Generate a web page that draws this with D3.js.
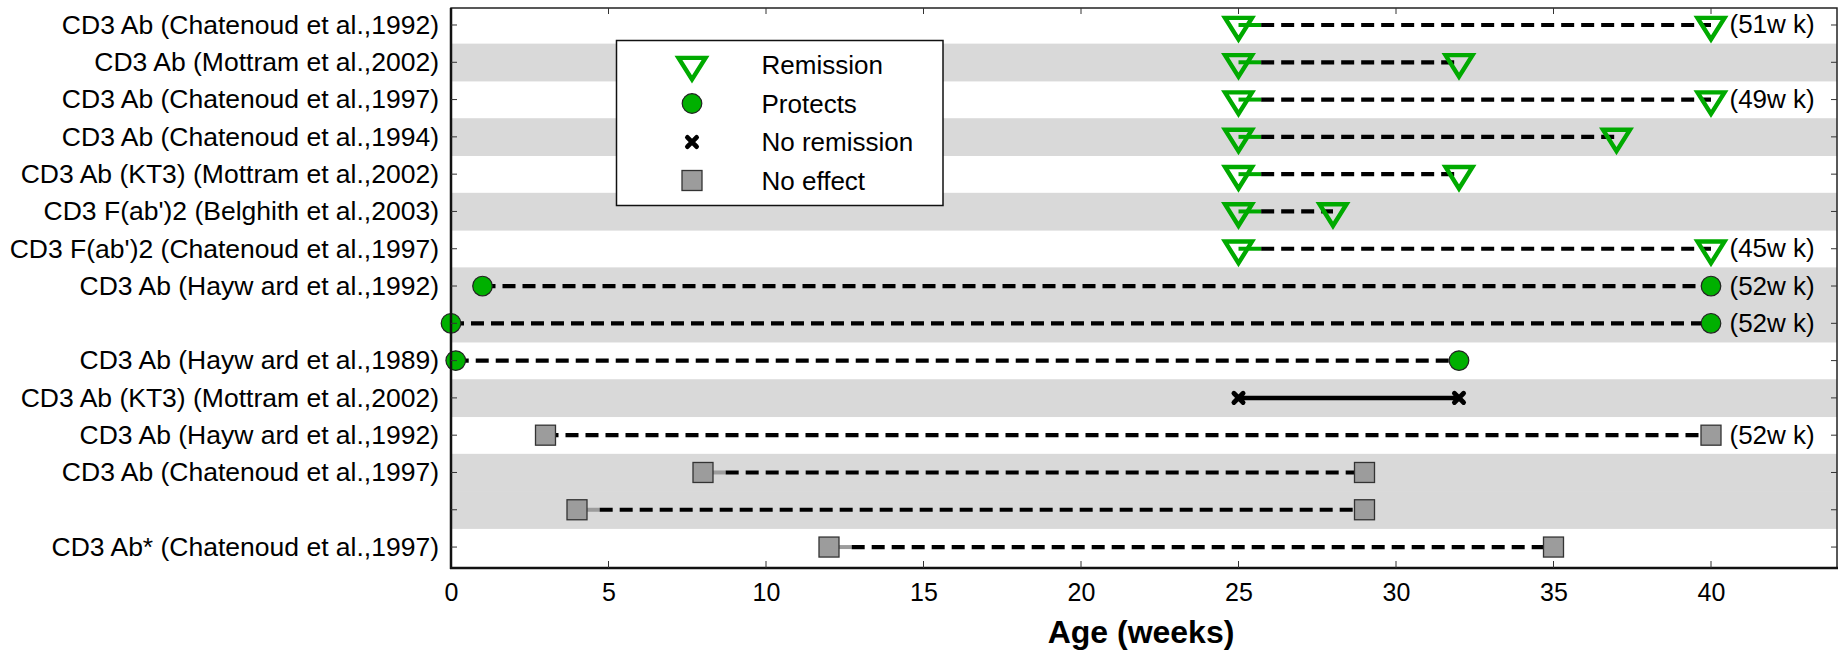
<!DOCTYPE html>
<html>
<head>
<meta charset="utf-8">
<script src="https://cdn.jsdelivr.net/npm/d3@7"></script>
<style>
  html, body { margin: 0; padding: 0; background: #fff; }
  svg { display: block; font-family: "Liberation Sans", Arial, sans-serif; }
</style>
</head>
<body>
<svg id="chart" width="1840" height="650"></svg>
<script>
// ---------------- data ----------------
const rowLabels = [
  "CD3 Ab (Chatenoud et al.,1992)",
  "CD3 Ab (Mottram et al.,2002)",
  "CD3 Ab (Chatenoud et al.,1997)",
  "CD3 Ab (Chatenoud et al.,1994)",
  "CD3 Ab (KT3) (Mottram et al.,2002)",
  "CD3 F(ab')2 (Belghith et al.,2003)",
  "CD3 F(ab')2 (Chatenoud et al.,1997)",
  "CD3 Ab (Hayw ard et al.,1992)",
  "",
  "CD3 Ab (Hayw ard et al.,1989)",
  "CD3 Ab (KT3) (Mottram et al.,2002)",
  "CD3 Ab (Hayw ard et al.,1992)",
  "CD3 Ab (Chatenoud et al.,1997)",
  "",
  "CD3 Ab* (Chatenoud et al.,1997)"
];
const outcomes = [
  "Remission","Remission","Remission","Remission","Remission","Remission","Remission",
  "Protects","Protects","Protects",
  "No remission",
  "No effect","No effect","No effect","No effect"
];
const startWeeks = [25, 25, 25, 25, 25, 25, 25, 1, 0, 0.15, 25, 3, 8, 4, 12];
const endWeeks   = [40, 32, 40, 37, 32, 28, 40, 40, 40, 32, 32, 40, 29, 29, 35];
const endNotes   = ["(51w k)", "", "(49w k)", "", "", "", "(45w k)", "(52w k)", "(52w k)", "", "", "(52w k)", "", "", ""];
const shadedRows = [0, 1, 0, 1, 0, 1, 0, 1, 1, 0, 1, 0, 1, 1, 0];
const xTickValues = [0, 5, 10, 15, 20, 25, 30, 35, 40];
const legendItems = ["Remission", "Protects", "No remission", "No effect"];
const xTitle = "Age (weeks)";

// ---------------- layout ----------------
const svg = d3.select("#chart");
const L = 451, R = 1837, T = 8, B = 568;
const x = d3.scaleLinear().domain([0, 44]).range([L, R]);
const rowIdx = d3.range(rowLabels.length);
const y = d3.scaleBand().domain(rowIdx).range([6.35, 6.35 + 37.29 * rowLabels.length]).padding(0);
const yc = i => y(i) + y.bandwidth() / 2;

const GREEN_TRI = "#00aa00", GREEN_DOT = "#00b000", SQ_FILL = "#9c9c9c";
const stubRows = new Set([0,1,2,3,4,5,6,12,13,14]);
const stubColor = {"Remission": GREEN_TRI, "No effect": SQ_FILL};

const defs = svg.append("defs");
defs.append("clipPath").attr("id", "plotclip")
  .append("rect").attr("x", L).attr("y", T).attr("width", R - L).attr("height", B - T);

const plot = svg.append("g").attr("clip-path", "url(#plotclip)");

// shaded bands
plot.selectAll("rect.band").data(rowIdx.filter(i => shadedRows[i]))
  .enter().append("rect")
  .attr("x", L).attr("width", R - L)
  .attr("y", i => y(i)).attr("height", y.bandwidth() + 0.5)
  .attr("fill", "#d9d9d9");

// markers
function drawMarker(g, type, cx, cy) {
  if (type === "Remission") {
    const w = 27, h = 21.5;
    g.append("path")
      .attr("d", `M${cx - w/2},${cy - h/3} L${cx + w/2},${cy - h/3} L${cx},${cy + 2*h/3} Z`)
      .attr("fill", "none").attr("stroke", GREEN_TRI).attr("stroke-width", 4.4)
      .attr("stroke-linejoin", "miter");
  } else if (type === "Protects") {
    g.append("circle").attr("cx", cx).attr("cy", cy).attr("r", 9.8)
      .attr("fill", GREEN_DOT).attr("stroke", "#222").attr("stroke-width", 1.2);
  } else if (type === "No remission") {
    const s = 4.6;
    g.append("path")
      .attr("d", `M${cx - s},${cy - s} L${cx + s},${cy + s} M${cx - s},${cy + s} L${cx + s},${cy - s}`)
      .attr("stroke", "#000").attr("stroke-width", 4.8).attr("stroke-linecap", "round");
  } else {
    g.append("rect").attr("x", cx - 10).attr("y", cy - 10).attr("width", 20).attr("height", 20)
      .attr("fill", SQ_FILL).attr("stroke", "#333").attr("stroke-width", 1.3);
  }
}

// lines
const lines = svg.append("g");
rowIdx.forEach(i => {
  const type = outcomes[i];
  const x0 = x(startWeeks[i]), x1 = x(endWeeks[i]), cy = yc(i);
  if (type === "No remission") {
    lines.append("line").attr("x1", x0).attr("x2", x1).attr("y1", cy).attr("y2", cy)
      .attr("stroke", "#000").attr("stroke-width", 4.5);
    return;
  }
  let dashStart = x0;
  if (stubRows.has(i)) {
    const stubEnd = x(startWeeks[i] + 0.72);
    lines.append("line").attr("x1", x0).attr("x2", stubEnd).attr("y1", cy).attr("y2", cy)
      .attr("stroke", stubColor[type]).attr("stroke-width", 4);
    dashStart = stubEnd;
  }
  lines.append("line").attr("x1", dashStart).attr("x2", x1).attr("y1", cy).attr("y2", cy)
    .attr("stroke", "#000").attr("stroke-width", 4.2).attr("stroke-dasharray", "13,7");
});

const marks = svg.append("g");
rowIdx.forEach(i => {
  drawMarker(marks, outcomes[i], x(startWeeks[i]), yc(i));
  drawMarker(marks, outcomes[i], x(endWeeks[i]), yc(i));
});

// end notes
svg.append("g").selectAll("text").data(rowIdx.filter(i => endNotes[i]))
  .enter().append("text")
  .attr("x", i => x(endWeeks[i]) + 18.5)
  .attr("y", i => yc(i) + 8.5)
  .attr("font-size", 26).attr("fill", "#000")
  .text(i => endNotes[i]);

// frame
svg.append("rect").attr("x", L).attr("y", T).attr("width", R - L).attr("height", B - T)
  .attr("fill", "none").attr("stroke", "#222").attr("stroke-width", 1.5);
svg.append("line").attr("x1", L).attr("x2", L).attr("y1", T).attr("y2", B + 1)
  .attr("stroke", "#111").attr("stroke-width", 2.5);
svg.append("line").attr("x1", L - 1).attr("x2", R + 1).attr("y1", B).attr("y2", B)
  .attr("stroke", "#111").attr("stroke-width", 2.5);

// x axis (bottom) ticks + labels
const xAxis = d3.axisBottom(x).tickValues(xTickValues).tickSize(0).tickPadding(0).tickFormat(d3.format("d"));
const gx = svg.append("g").attr("transform", `translate(0,${B})`).call(xAxis);
gx.select(".domain").remove();
gx.selectAll("text").attr("font-size", 25).attr("font-family", "Liberation Sans, Arial, sans-serif")
  .attr("fill", "#000").attr("dy", null).attr("y", 33);
// inward ticks bottom & top
svg.append("g").selectAll("line.xt").data(xTickValues.filter(v => v > 0)).enter().append("line")
  .attr("x1", d => x(d)).attr("x2", d => x(d)).attr("y1", B).attr("y2", B - 7)
  .attr("stroke", "#333").attr("stroke-width", 1);
svg.append("g").selectAll("line.xt2").data(xTickValues.filter(v => v > 0)).enter().append("line")
  .attr("x1", d => x(d)).attr("x2", d => x(d)).attr("y1", T).attr("y2", T + 6)
  .attr("stroke", "#333").attr("stroke-width", 1);

// y ticks inward, left & right
svg.append("g").selectAll("line").data(rowIdx).enter().append("line")
  .attr("x1", L).attr("x2", L + 6).attr("y1", i => yc(i)).attr("y2", i => yc(i))
  .attr("stroke", "#333").attr("stroke-width", 1);
svg.append("g").selectAll("line").data(rowIdx).enter().append("line")
  .attr("x1", R - 6).attr("x2", R).attr("y1", i => yc(i)).attr("y2", i => yc(i))
  .attr("stroke", "#333").attr("stroke-width", 1);

// y labels
svg.append("g").selectAll("text").data(rowIdx.filter(i => rowLabels[i])).enter().append("text")
  .attr("x", 439).attr("y", i => yc(i) + 8.8)
  .attr("text-anchor", "end").attr("font-size", 26.5).attr("fill", "#000")
  .text(i => rowLabels[i]);

// x title
svg.append("text").attr("x", (L + R) / 2 - 3).attr("y", 643)
  .attr("text-anchor", "middle").attr("font-size", 32).attr("font-weight", "bold")
  .attr("fill", "#000").text(xTitle);

// legend
const lg = svg.append("g");
lg.append("rect").attr("x", 616.5).attr("y", 40.5).attr("width", 326.5).attr("height", 165)
  .attr("fill", "#fff").attr("stroke", "#111").attr("stroke-width", 1.5);
const legY = [65, 103.5, 142, 180.5];
legendItems.forEach((name, k) => {
  drawMarker(lg, name, 692, legY[k]);
  lg.append("text").attr("x", 761.5).attr("y", legY[k] + 9)
    .attr("font-size", 26).attr("fill", "#000").text(name);
});
</script>
</body>
</html>
